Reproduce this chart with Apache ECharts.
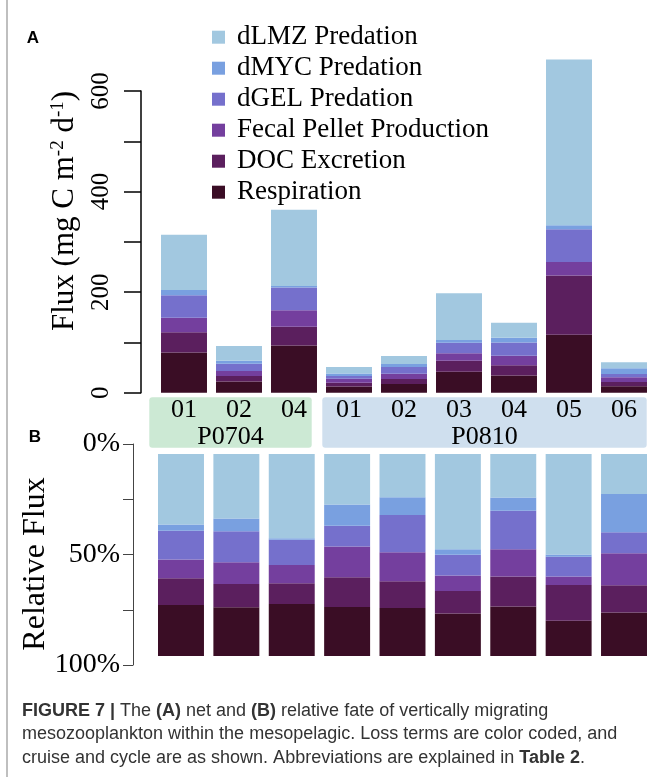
<!DOCTYPE html>
<html><head><meta charset="utf-8">
<script src="https://cdn.jsdelivr.net/npm/echarts@6/dist/echarts.min.js"></script>
<style>html,body{margin:0;padding:0;background:#fff}#c{width:655px;height:777px}</style>
</head><body><div id="c"></div>
<script>
// ---- data ----
const cycles = ['01','02','04','01','02','03','04','05','06'];
const cruises = ['P0704','P0810'];
const seriesNames = ['Respiration','DOC Excretion','Fecal Pellet Production','dGEL Predation','dMYC Predation','dLMZ Predation'];
const legendOrder = ['dLMZ Predation','dMYC Predation','dGEL Predation','Fecal Pellet Production','DOC Excretion','Respiration'];
// (A) net flux, mg C m-2 d-1
const respiration = [80, 22.4, 94, 12.4, 17.4, 41.5, 34.1, 115, 13];
const docExcretion = [40, 10.8, 37, 7.5, 9.6, 22.2, 20.6, 118, 8.2];
const fecalPellet = [29, 10, 33, 7.8, 10.5, 15, 18.9, 27, 9.6];
const dgelPred = [45, 14.3, 45, 5.3, 13.4, 20.4, 26.4, 65, 6.3];
const dmycPred = [10, 5.9, 3, 5.4, 6.4, 5.5, 9.2, 8, 11.4];
const dlmzPred = [110, 29.7, 152, 12.75, 15.7, 93.1, 29.9, 329.5, 12];
// (B) relative flux, %
const relRespiration = [25.3, 24.1, 25.8, 24.3, 23.8, 21.0, 24.5, 17.4, 21.5];
const relDoc = [13.2, 11.6, 10.2, 14.7, 13.2, 11.2, 14.8, 17.8, 13.5];
const relFecal = [9.3, 10.7, 9.1, 15.2, 14.4, 7.6, 13.6, 4.1, 15.9];
const relDgel = [14.2, 15.4, 12.4, 10.3, 18.4, 10.3, 19.0, 9.8, 10.4];
const relDmyc = [3.1, 6.3, 0.8, 10.5, 8.8, 2.8, 6.6, 1.2, 18.9];
const relDlmz = [34.9, 31.9, 41.7, 25.0, 21.5, 47.1, 21.5, 49.8, 19.8];
const netTicks = [0, 200, 400, 600];
const relTicks = [0, 50, 100];

const colors = ['#3a0d25', '#5b1f5e', '#743f9e', '#7570cc', '#79a0e0', '#a2c8e0'];
const netData = [respiration, docExcretion, fecalPellet, dgelPred, dmycPred, dlmzPred];
const relData = [relRespiration, relDoc, relFecal, relDgel, relDmyc, relDlmz];
const serif = 'Liberation Serif';

const series = [];
seriesNames.forEach((n, i) => {
  series.push({name: n, type: 'bar', stack: 'net', xAxisIndex: 0, yAxisIndex: 0, data: netData[i],
    barCategoryGap: '16.4%', clip: false, itemStyle: {color: colors[i]}, emphasis: {disabled: true}});
  series.push({name: n, type: 'bar', stack: 'rel', xAxisIndex: 1, yAxisIndex: 1, data: relData[i],
    barCategoryGap: '17%', itemStyle: {color: colors[i]}, emphasis: {disabled: true}});
});

const chart = echarts.init(document.getElementById('c'), null, {renderer: 'canvas'});
chart.setOption({
  animation: false,
  backgroundColor: '#fff',
  textStyle: {fontFamily: serif},
  color: colors,
  legend: {
    data: legendOrder, orient: 'vertical', left: 212, top: 23.7, padding: 0,
    itemWidth: 13, itemHeight: 13, itemGap: 4, icon: 'rect', selectedMode: false,
    textStyle: {fontFamily: serif, fontSize: 27, lineHeight: 26, color: '#000', padding: [0, 0, 0, 7]}
  },
  grid: [
    {left: 156.5, width: 495, top: 91, height: 301.7},
    {left: 153.3, width: 498.4, top: 454, height: 202},
    {left: 133, width: 10, top: 444, height: 221}
  ],
  xAxis: [
    {gridIndex: 0, type: 'category', data: cycles, axisLine: {show: false}, axisTick: {show: false},
      axisLabel: {fontFamily: serif, fontSize: 26, color: '#000', margin: 4}},
    {gridIndex: 1, type: 'category', data: cycles, show: false},
    {gridIndex: 2, type: 'category', data: [''], show: false}
  ],
  yAxis: [
    {gridIndex: 0, type: 'value', min: 0, max: 600, interval: 100, offset: 15.5,
      axisLine: {show: true, lineStyle: {color: '#000', width: 1.5}},
      axisTick: {show: true, length: 17, lineStyle: {color: '#000', width: 1.5}},
      splitLine: {show: false},
      axisLabel: {rotate: 90, fontFamily: serif, fontSize: 25, color: '#000', margin: 27,
        formatter: v => netTicks.includes(v) ? String(v) : ''}},
    {gridIndex: 1, type: 'value', min: 0, max: 100, show: false},
    {gridIndex: 2, type: 'value', min: 0, max: 100, interval: 25, inverse: true,
      axisLine: {show: true, lineStyle: {color: '#444', width: 1}},
      axisTick: {show: true, length: 10, lineStyle: {color: '#444', width: 1}},
      splitLine: {show: false},
      axisLabel: {fontFamily: serif, fontSize: 28, color: '#000', margin: 13,
        formatter: v => relTicks.includes(v) ? v + '%' : ''}}
  ],
  series: series,
  graphic: [
    {type: 'line', shape: {x1: 7, y1: 0, x2: 7, y2: 777}, style: {stroke: '#aaa', lineWidth: 1.5}, silent: true},
    {type: 'text', x: 33, y: 38, style: {text: 'A', font: 'bold 17px "Liberation Sans"', fill: '#000', align: 'center', verticalAlign: 'middle'}},
    {type: 'text', x: 35, y: 437, style: {text: 'B', font: 'bold 17px "Liberation Sans"', fill: '#000', align: 'center', verticalAlign: 'middle'}},
    {type: 'rect', shape: {x: 149.3, y: 397.3, width: 162.4, height: 50.4, r: 3}, style: {fill: '#cce9d4'}, z: -1},
    {type: 'rect', shape: {x: 322.3, y: 397.3, width: 324.4, height: 50.4, r: 3}, style: {fill: '#cfdfee'}, z: -1},
    {type: 'text', x: 230.5, y: 437, style: {text: cruises[0], font: '26px "Liberation Serif"', fill: '#000', align: 'center', verticalAlign: 'middle'}},
    {type: 'text', x: 484.5, y: 437, style: {text: cruises[1], font: '26px "Liberation Serif"', fill: '#000', align: 'center', verticalAlign: 'middle'}},
    {type: 'text', x: 65, y: 211, rotation: Math.PI / 2, style: {
      text: 'Flux (mg C m{sup|-2} d{sup|-1})', fontFamily: serif, fontSize: 31, lineHeight: 32, fill: '#000',
      align: 'center', verticalAlign: 'middle',
      rich: {sup: {fontFamily: serif, fontSize: 19, verticalAlign: 'top', lineHeight: 32}}}},
    {type: 'text', x: 36, y: 564, rotation: Math.PI / 2, style: {
      text: 'Relative Flux', fontFamily: serif, fontSize: 32, fill: '#000', align: 'center', verticalAlign: 'middle'}},
    {type: 'text', x: 22, y: 699, style: {
      text: '{b|FIGURE 7 |} The {b|(A)} net and {b|(B)} relative fate of vertically migrating\nmesozooplankton within the mesopelagic. Loss terms are color coded, and\ncruise and cycle are as shown. Abbreviations are explained in {b|Table 2}.',
      fontFamily: 'Liberation Sans', fontSize: 18, lineHeight: 23.5, fill: '#333', align: 'left', verticalAlign: 'top',
      rich: {b: {fontFamily: 'Liberation Sans', fontWeight: 'bold', fontSize: 18, lineHeight: 23.5, color: '#222'}}}}
  ]
});
</script></body></html>
